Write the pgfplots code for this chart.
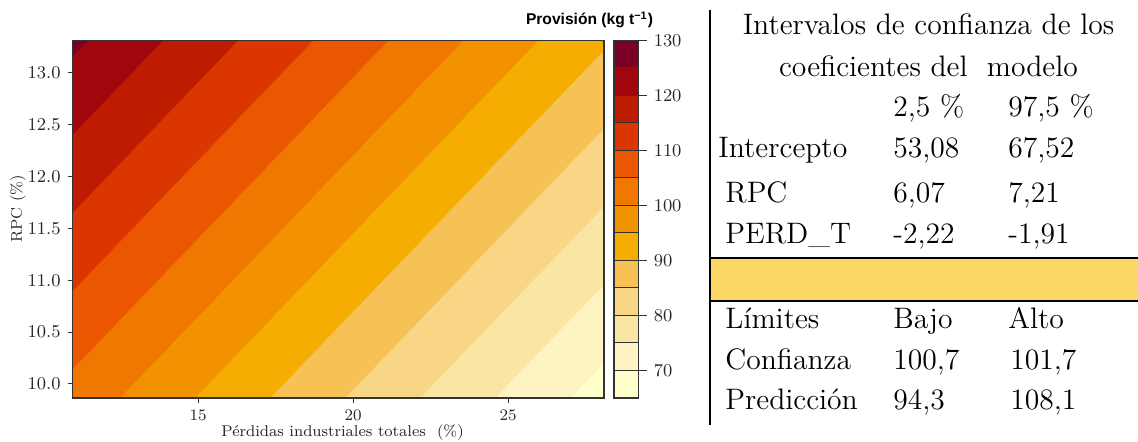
\documentclass[border=0pt]{standalone}
\usepackage{fontspec}
\usepackage{pgfplots}
\pgfplotsset{compat=1.18}
\newfontfamily\titlefont{Liberation Sans}
\definecolor{c65}{RGB}{255,255,204}
\definecolor{c70}{RGB}{254,244,195}
\definecolor{c75}{RGB}{250,230,164}
\definecolor{c80}{RGB}{248,214,133}
\definecolor{c85}{RGB}{246,193,85}
\definecolor{c90}{RGB}{244,173,0}
\definecolor{c95}{RGB}{242,146,0}
\definecolor{c100}{RGB}{240,119,0}
\definecolor{c105}{RGB}{235,86,0}
\definecolor{c110}{RGB}{219,53,0}
\definecolor{c115}{RGB}{190,28,0}
\definecolor{c120}{RGB}{161,6,15}
\definecolor{c125}{RGB}{122,0,38}
\definecolor{bandyellow}{RGB}{252,215,102}
\definecolor{axgray}{RGB}{51,51,51}
\newcommand\tabfont{\fontsize{14.8}{17}\selectfont}
\begin{document}
\begin{tikzpicture}
\useasboundingbox (0pt,0pt) rectangle (569pt,221pt);
\begin{axis}[
  at={(36.35pt,22pt)}, anchor=south west,
  scale only axis, width=265.65pt, height=178.75pt,
  xmin=10.95, xmax=28.09, ymin=9.865, ymax=13.31,
  xtick={15,20,25}, ytick={10,10.5,...,13},
  tick pos=left, tick align=outside, major tick length=2.5pt,
  tick style={axgray, line width=0.5pt},
  axis line style={axgray, line width=0.6pt},
  x tick label style={font=\fontsize{7.9}{9}\selectfont, text=black!85},
  y tick label style={font=\fontsize{8.8}{10}\selectfont, text=black!85, /pgf/number format/.cd, fixed, fixed zerofill, precision=1},
  label style={font=\fontsize{7.8}{9}\selectfont, text=black!85},
  xlabel={Pérdidas industriales totales\ \ (\%)},
  ylabel={RPC (\%)},
  xlabel style={at={(axis description cs:0.508,-0.097)}, anchor=center},
  ylabel style={at={(axis description cs:-0.103,0.529)}, anchor=center},
  axis on top,
]
% 125-130
\addplot[fill=c125, draw=c125, line width=0.3pt] coordinates {(10.95,13.149) (10.95,13.31) (11.466,13.31)} -- cycle;
% 120-125
\addplot[fill=c120, draw=c120, line width=0.3pt] coordinates {(10.95,12.396) (10.95,13.149) (11.466,13.31) (13.888,13.31)} -- cycle;
% 115-120
\addplot[fill=c115, draw=c115, line width=0.3pt] coordinates {(10.95,11.643) (10.95,12.396) (13.888,13.31) (16.309,13.31)} -- cycle;
% 110-115
\addplot[fill=c110, draw=c110, line width=0.3pt] coordinates {(10.95,10.890) (10.95,11.643) (16.309,13.31) (18.730,13.31)} -- cycle;
% 105-110
\addplot[fill=c105, draw=c105, line width=0.3pt] coordinates {(10.95,10.137) (10.95,10.890) (18.730,13.31) (21.152,13.31)} -- cycle;
% 100-105
\addplot[fill=c100, draw=c100, line width=0.3pt] coordinates {(10.95,9.865) (10.95,10.137) (21.152,13.31) (23.573,13.31) (12.496,9.865)} -- cycle;
% 95-100
\addplot[fill=c95, draw=c95, line width=0.3pt] coordinates {(12.496,9.865) (23.573,13.31) (25.994,13.31) (14.917,9.865)} -- cycle;
% 90-95
\addplot[fill=c90, draw=c90, line width=0.3pt] coordinates {(14.917,9.865) (25.994,13.31) (28.09,13.31) (28.09,13.209) (17.338,9.865)} -- cycle;
% 85-90
\addplot[fill=c85, draw=c85, line width=0.3pt] coordinates {(17.338,9.865) (28.09,13.209) (28.09,12.456) (19.760,9.865)} -- cycle;
% 80-85
\addplot[fill=c80, draw=c80, line width=0.3pt] coordinates {(19.760,9.865) (28.09,12.456) (28.09,11.703) (22.181,9.865)} -- cycle;
% 75-80
\addplot[fill=c75, draw=c75, line width=0.3pt] coordinates {(22.181,9.865) (28.09,11.703) (28.09,10.950) (24.602,9.865)} -- cycle;
% 70-75
\addplot[fill=c70, draw=c70, line width=0.3pt] coordinates {(24.602,9.865) (28.09,10.950) (28.09,10.197) (27.024,9.865)} -- cycle;
% 65-70
\addplot[fill=c65, draw=c65, line width=0.3pt] coordinates {(27.024,9.865) (28.09,10.197) (28.09,9.865)} -- cycle;
\end{axis}
% colour key
\begin{axis}[
  at={(307pt,22pt)}, anchor=south west,
  scale only axis, width=12.35pt, height=178.75pt,
  xmin=0, xmax=1, ymin=65, ymax=130,
  xtick=\empty, ytick={70,80,...,130},
  ytick pos=right, yticklabel pos=right,
  tick align=outside, major tick length=4pt,
  tick style={axgray, line width=0.5pt},
  axis line style={axgray, line width=0.6pt},
  tick label style={font=\fontsize{8.8}{10}\selectfont, text=black!85},
  axis on top,
]
\addplot[fill=c65, draw=axgray, line width=0.5pt] coordinates {(0,65) (1,65) (1,70) (0,70)} -- cycle;
\addplot[fill=c70, draw=axgray, line width=0.5pt] coordinates {(0,70) (1,70) (1,75) (0,75)} -- cycle;
\addplot[fill=c75, draw=axgray, line width=0.5pt] coordinates {(0,75) (1,75) (1,80) (0,80)} -- cycle;
\addplot[fill=c80, draw=axgray, line width=0.5pt] coordinates {(0,80) (1,80) (1,85) (0,85)} -- cycle;
\addplot[fill=c85, draw=axgray, line width=0.5pt] coordinates {(0,85) (1,85) (1,90) (0,90)} -- cycle;
\addplot[fill=c90, draw=axgray, line width=0.5pt] coordinates {(0,90) (1,90) (1,95) (0,95)} -- cycle;
\addplot[fill=c95, draw=axgray, line width=0.5pt] coordinates {(0,95) (1,95) (1,100) (0,100)} -- cycle;
\addplot[fill=c100, draw=axgray, line width=0.5pt] coordinates {(0,100) (1,100) (1,105) (0,105)} -- cycle;
\addplot[fill=c105, draw=axgray, line width=0.5pt] coordinates {(0,105) (1,105) (1,110) (0,110)} -- cycle;
\addplot[fill=c110, draw=axgray, line width=0.5pt] coordinates {(0,110) (1,110) (1,115) (0,115)} -- cycle;
\addplot[fill=c115, draw=axgray, line width=0.5pt] coordinates {(0,115) (1,115) (1,120) (0,120)} -- cycle;
\addplot[fill=c120, draw=axgray, line width=0.5pt] coordinates {(0,120) (1,120) (1,125) (0,125)} -- cycle;
\addplot[fill=c125, draw=axgray, line width=0.5pt] coordinates {(0,125) (1,125) (1,130) (0,130)} -- cycle;
\end{axis}
\begin{scope}[x=0.5pt,y=0.5pt]
% key title
\node[font=\titlefont\bfseries\fontsize{7.8}{9}\selectfont, inner sep=0pt] at (589.5,422) {Provisión (kg t\textsuperscript{−1})};
% table
\fill[bandyellow] (710,141) rectangle (1138,183.7);
\draw[line width=1.1pt] (710,183.7) -- (1138,183.7);
\draw[line width=1.1pt] (710,141) -- (1138,141);
\draw[line width=1pt] (710,17) -- (710,432);
\begin{scope}[every node/.style={inner sep=0pt, font=\tabfont}]
\node[anchor=base] at (928.5,407) {Intervalos de confianza de los};
\node[anchor=base] at (928.5,365.3) {coeficientes del\ \ modelo};
\node[anchor=base west] at (893,325.3) {2,5 \%};
\node[anchor=base west] at (1008,325.3) {97,5 \%};
\node[anchor=base west] at (718,284.7) {Intercepto};
\node[anchor=base west] at (893,284.7) {53,08};
\node[anchor=base west] at (1008,284.7) {67,52};
\node[anchor=base west] at (725,239.7) {RPC};
\node[anchor=base west] at (893,239.7) {6,07};
\node[anchor=base west] at (1008,239.7) {7,21};
\node[anchor=base west] at (725,198.7) {PERD\_T};
\node[anchor=base west] at (893,198.7) {-2,22};
\node[anchor=base west] at (1008,198.7) {-1,91};
\node[anchor=base west] at (725,113.7) {Límites};
\node[anchor=base west] at (893,113.7) {Bajo};
\node[anchor=base west] at (1008,113.7) {Alto};
\node[anchor=base west] at (725,72) {Confianza};
\node[anchor=base west] at (893,72) {100,7};
\node[anchor=base west] at (1010,72) {101,7};
\node[anchor=base west] at (725,32) {Predicción};
\node[anchor=base west] at (893,32) {94,3};
\node[anchor=base west] at (1010,32) {108,1};
\end{scope}
\end{scope}
\end{tikzpicture}
\end{document}
